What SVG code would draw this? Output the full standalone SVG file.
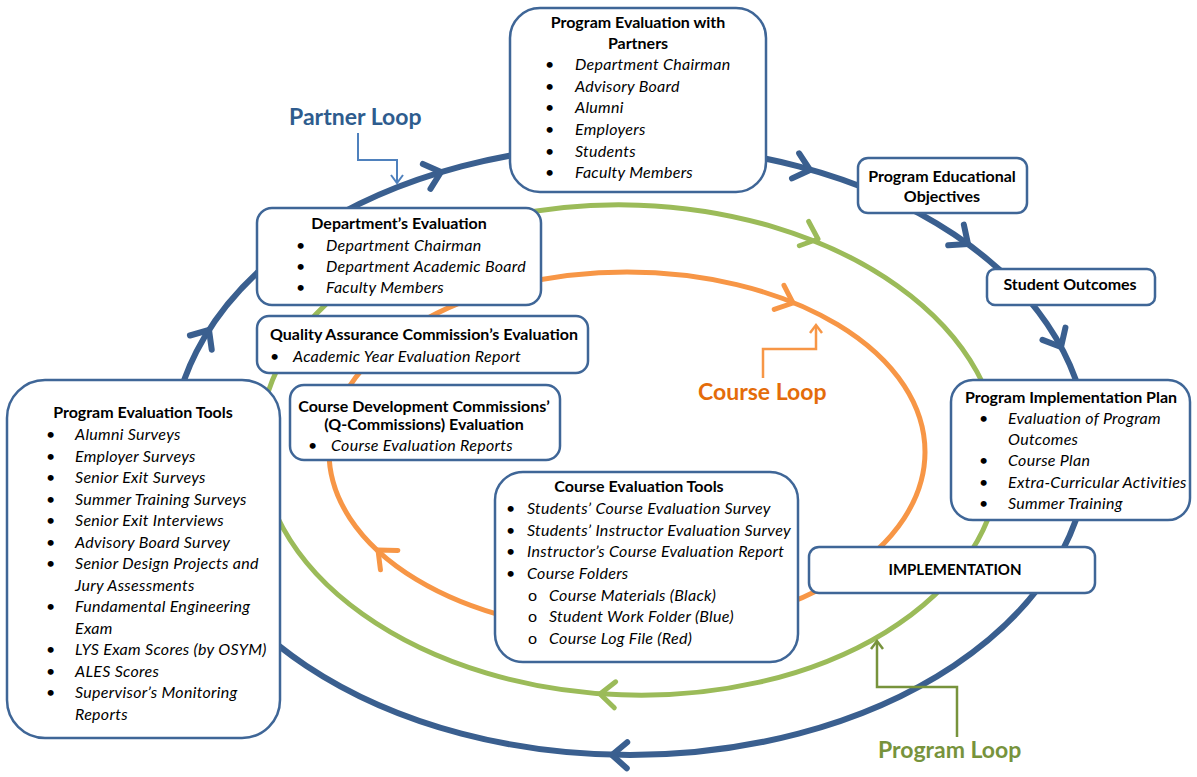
<svg xmlns="http://www.w3.org/2000/svg" width="1197" height="777" viewBox="0 0 1197 777">
<style>
.box{fill:#fff;stroke:#3F6697;stroke-width:2.5}
.t{font-family:Lato,"Liberation Sans",sans-serif;font-size:16px;fill:#000}
.b{font-weight:bold}
.i{font-style:italic;letter-spacing:0.3px}
.m{text-anchor:middle}
.lb{fill:none;stroke:#3A5F8F;stroke-width:6;stroke-linecap:round;stroke-linejoin:round}
.lg{fill:none;stroke:#9BBB59;stroke-width:5;stroke-linecap:round;stroke-linejoin:round}
.lo{fill:none;stroke:#F79646;stroke-width:5;stroke-linecap:round;stroke-linejoin:round}
.lab{font-family:Lato,"Liberation Sans",sans-serif;font-size:23px;font-weight:bold}
</style>
<defs>
<path id="chev" d="M-15,-13 L0,0 L-15,13"/>
</defs>
<g id="connectors">
<ellipse class="lb" cx="630" cy="450" rx="458" ry="305"/>
<ellipse class="lg" cx="630" cy="450" rx="370" ry="245" transform="rotate(2 630 450)"/>
<ellipse class="lo" cx="627" cy="452" rx="298" ry="180"/>
<use href="#chev" class="lb" transform="translate(209,330) rotate(-57)"/>
<use href="#chev" class="lb" transform="translate(441,172) rotate(-17)"/>
<use href="#chev" class="lb" transform="translate(810,170) rotate(16)"/>
<use href="#chev" class="lb" transform="translate(968,244) rotate(37)"/>
<use href="#chev" class="lb" transform="translate(1061,347) rotate(62)"/>
<use href="#chev" class="lb" transform="translate(612,755) rotate(181)"/>
<use href="#chev" class="lg" transform="translate(818,239) rotate(21)"/>
<use href="#chev" class="lg" transform="translate(600,694) rotate(183)"/>
<use href="#chev" class="lo" transform="translate(793,303) rotate(22)"/>
<use href="#chev" class="lo" transform="translate(378,550) rotate(-138)"/>
<path d="M358,133 V160 H397 V182" fill="none" stroke="#4F81BD" stroke-width="2"/>
<path d="M391,175 L397,183 L403,175" fill="none" stroke="#4F81BD" stroke-width="2"/>
<path d="M763,378 V349 H816 V326" fill="none" stroke="#F79646" stroke-width="2.5"/>
<path d="M810,333 L816,325 L822,333" fill="none" stroke="#F79646" stroke-width="2.5"/>
<path d="M957,737 V687 H877 V641" fill="none" stroke="#77933C" stroke-width="2.5"/>
<path d="M871,649 L877,641 L883,649" fill="none" stroke="#77933C" stroke-width="2.5"/>
</g>
<g id="partners">
<rect class="box" x="510" y="8" width="256" height="184" rx="30"/>
<text class="t b m" x="638" y="28">Program Evaluation with</text>
<text class="t b m" x="638" y="49">Partners</text>
<g class="t"><text x="545" y="70">•</text><text x="545" y="92">•</text><text x="545" y="113">•</text><text x="545" y="135">•</text><text x="545" y="157">•</text><text x="545" y="178">•</text></g>
<g class="t i"><text x="575" y="70">Department Chairman</text><text x="575" y="92">Advisory Board</text><text x="575" y="113">Alumni</text><text x="575" y="135">Employers</text><text x="575" y="157">Students</text><text x="575" y="178">Faculty Members</text></g>
</g>
<g id="dept">
<rect class="box" x="257" y="208" width="284" height="97" rx="15"/>
<text class="t b m" x="399" y="229">Department’s Evaluation</text>
<g class="t"><text x="296" y="251">•</text><text x="296" y="272">•</text><text x="296" y="293">•</text></g>
<g class="t i"><text x="326" y="251">Department Chairman</text><text x="326" y="272">Department Academic Board</text><text x="326" y="293">Faculty Members</text></g>
</g>
<g id="qa">
<rect class="box" x="257" y="316" width="331" height="57" rx="12"/>
<text class="t b m" x="424" y="340">Quality Assurance Commission’s Evaluation</text>
<text class="t" x="270" y="362">•</text>
<text class="t i" x="293" y="362">Academic Year Evaluation Report</text>
</g>
<g id="cd">
<rect class="box" x="290" y="385" width="270" height="75" rx="14"/>
<text class="t b m" x="424" y="412">Course Development Commissions’</text>
<text class="t b m" x="424" y="430">(Q-Commissions) Evaluation</text>
<text class="t" x="308" y="451">•</text>
<text class="t i" x="331" y="451">Course Evaluation Reports</text>
</g>
<g id="tools">
<rect class="box" x="7" y="380" width="273" height="358" rx="38"/>
<text class="t b m" x="143" y="418">Program Evaluation Tools</text>
<g class="t"><text x="46" y="440">•</text><text x="46" y="461.5">•</text><text x="46" y="483">•</text><text x="46" y="504.5">•</text><text x="46" y="526">•</text><text x="46" y="547.5">•</text><text x="46" y="569">•</text><text x="46" y="612">•</text><text x="46" y="655">•</text><text x="46" y="676.5">•</text><text x="46" y="698">•</text></g>
<g class="t i"><text x="75" y="440">Alumni Surveys</text><text x="75" y="461.5">Employer Surveys</text><text x="75" y="483">Senior Exit Surveys</text><text x="75" y="504.5">Summer Training Surveys</text><text x="75" y="526">Senior Exit Interviews</text><text x="75" y="547.5">Advisory Board Survey</text><text x="75" y="569">Senior Design Projects and</text><text x="75" y="590.5">Jury Assessments</text><text x="75" y="612">Fundamental Engineering</text><text x="75" y="633.5">Exam</text><text x="75" y="655">LYS Exam Scores (by OSYM)</text><text x="75" y="676.5">ALES Scores</text><text x="75" y="698">Supervisor’s Monitoring</text><text x="75" y="719.5">Reports</text></g>
</g>
<g id="course-tools">
<rect class="box" x="495" y="472" width="303" height="190" rx="28"/>
<text class="t b m" x="639" y="492">Course Evaluation Tools</text>
<g class="t"><text x="506" y="514">•</text><text x="506" y="535.5">•</text><text x="506" y="557">•</text><text x="506" y="579">•</text><text x="528" y="600.5">o</text><text x="528" y="622">o</text><text x="528" y="644">o</text></g>
<g class="t i"><text x="527" y="514">Students’ Course Evaluation Survey</text><text x="527" y="535.5">Students’ Instructor Evaluation Survey</text><text x="527" y="557">Instructor’s Course Evaluation Report</text><text x="527" y="579">Course Folders</text><text x="549" y="600.5">Course Materials (Black)</text><text x="549" y="622">Student Work Folder (Blue)</text><text x="549" y="644">Course Log File (Red)</text></g>
</g>
<g id="peo">
<rect class="box" x="858" y="158" width="169" height="55" rx="10"/>
<text class="t b m" x="942" y="182">Program Educational</text>
<text class="t b m" x="942" y="202">Objectives</text>
</g>
<g id="so">
<rect class="box" x="987" y="269" width="168" height="36" rx="8"/>
<text class="t b m" x="1070" y="290">Student Outcomes</text>
</g>
<g id="pip">
<rect class="box" x="951" y="380" width="239" height="140" rx="22"/>
<text class="t b m" x="1071" y="403">Program Implementation Plan</text>
<g class="t"><text x="979" y="424">•</text><text x="979" y="466">•</text><text x="979" y="488">•</text><text x="979" y="509">•</text></g>
<g class="t i"><text x="1008" y="424">Evaluation of Program</text><text x="1008" y="445">Outcomes</text><text x="1008" y="466">Course Plan</text><text x="1008" y="488">Extra-Curricular Activities</text><text x="1008" y="509">Summer Training</text></g>
</g>
<g id="impl">
<rect class="box" x="809" y="547" width="286" height="46" rx="10"/>
<text class="t b m" x="955" y="575" style="font-size:15px">IMPLEMENTATION</text>
</g>
<g id="labels">
<text class="lab" x="289" y="125" fill="#2E5C8E">Partner Loop</text>
<text class="lab" x="698" y="400" fill="#E46C0A">Course Loop</text>
<text class="lab" x="878" y="758" fill="#77933C">Program Loop</text>
</g>
</svg>
